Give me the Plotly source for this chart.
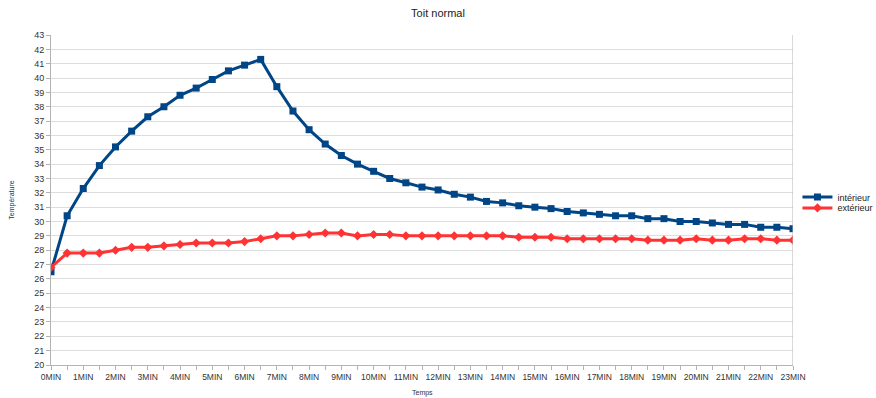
import plotly.graph_objects as go

temps_min = [0, 0.5, 1, 1.5, 2, 2.5, 3, 3.5, 4, 4.5, 5, 5.5, 6, 6.5, 7, 7.5, 8, 8.5,
             9, 9.5, 10, 10.5, 11, 11.5, 12, 12.5, 13, 13.5, 14, 14.5, 15, 15.5, 16,
             16.5, 17, 17.5, 18, 18.5, 19, 19.5, 20, 20.5, 21, 21.5, 22, 22.5, 23]

interieur = [26.5, 30.4, 32.3, 33.9, 35.2, 36.3, 37.3, 38.0, 38.8, 39.3, 39.9, 40.5,
             40.9, 41.3, 39.4, 37.7, 36.4, 35.4, 34.6, 34.0, 33.5, 33.0, 32.7, 32.4,
             32.2, 31.9, 31.7, 31.4, 31.3, 31.1, 31.0, 30.9, 30.7, 30.6, 30.5, 30.4,
             30.4, 30.2, 30.2, 30.0, 30.0, 29.9, 29.8, 29.8, 29.6, 29.6, 29.5]

exterieur = [26.8, 27.8, 27.8, 27.8, 28.0, 28.2, 28.2, 28.3, 28.4, 28.5, 28.5, 28.5,
             28.6, 28.8, 29.0, 29.0, 29.1, 29.2, 29.2, 29.0, 29.1, 29.1, 29.0, 29.0,
             29.0, 29.0, 29.0, 29.0, 29.0, 28.9, 28.9, 28.9, 28.8, 28.8, 28.8, 28.8,
             28.8, 28.7, 28.7, 28.7, 28.8, 28.7, 28.7, 28.8, 28.8, 28.7, 28.7]

tick_vals = list(range(0, 24))
tick_labels = [f"{m}MIN" for m in tick_vals]
y_ticks = list(range(20, 44))

fig = go.Figure()
fig.add_trace(go.Scatter(
    x=temps_min, y=interieur, name="intérieur", mode="lines+markers",
    line=dict(color="#004586", width=3),
    marker=dict(symbol="square", size=7, color="#004586"),
    legend="legend",
))
fig.add_trace(go.Scatter(
    x=temps_min, y=exterieur, name="extérieur", mode="lines+markers",
    line=dict(color="#ff3333", width=3),
    marker=dict(symbol="diamond", size=7, color="#ff3333"),
    legend="legend2",
))

legend_common = dict(xanchor="left", yanchor="middle", font=dict(size=9, color="#222222"),
                     bgcolor="rgba(0,0,0,0)", itemwidth=30, borderwidth=0)

fig.update_layout(
    width=876, height=398,
    margin=dict(l=51, r=83, t=35, b=33, autoexpand=False),
    paper_bgcolor="white", plot_bgcolor="white",
    font=dict(family="Liberation Sans, Arial, sans-serif", color="#333333", size=9),
    title=dict(text="Toit normal", x=0.5, xanchor="center", xref="container",
               y=0.967, yanchor="middle", yref="container",
               font=dict(size=11, color="#222222")),
    showlegend=True,
    legend=dict(x=1.0060, y=0.509, **legend_common),
    legend2=dict(x=1.0060, y=0.476, **legend_common),
    xaxis=dict(
        range=[0, 23], tickmode="array", tickvals=tick_vals, ticktext=tick_labels,
        automargin=False,
        showgrid=False, zeroline=False, showline=True, linecolor="#b3b3b3", linewidth=1,
        ticks="outside", ticklen=4, tickcolor="#b3b3b3",
        minor=dict(dtick=0.5, ticks="outside", ticklen=4, tickcolor="#b3b3b3", showgrid=False),
        tickfont=dict(size=8.5, color="#333333"),
    ),
    yaxis=dict(
        range=[20, 43], tickmode="array", tickvals=y_ticks,
        automargin=False,
        showgrid=True, gridcolor="#dddddd", gridwidth=1, zeroline=False,
        showline=True, linecolor="#b3b3b3", linewidth=1,
        ticks="outside", ticklen=4, tickcolor="#b3b3b3",
        tickfont=dict(size=9, color="#333333"),
    ),
    annotations=[
        dict(text="Temps", xref="paper", yref="paper", x=0.5, y=-0.085,
             xanchor="center", yanchor="middle", showarrow=False,
             font=dict(size=7, color="#333333")),
        dict(text="Température", xref="paper", yref="paper", x=-0.053, y=0.5,
             xanchor="center", yanchor="middle", showarrow=False, textangle=-90,
             font=dict(size=7, color="#333333")),
    ],
)

fig.add_shape(type="line", xref="x", yref="paper", x0=23, x1=23, y0=0, y1=1,
              line=dict(color="#b3b3b3", width=1))

fig.write_html("out.html", config={"displayModeBar": False},
               post_script="document.body.style.margin='0';")
